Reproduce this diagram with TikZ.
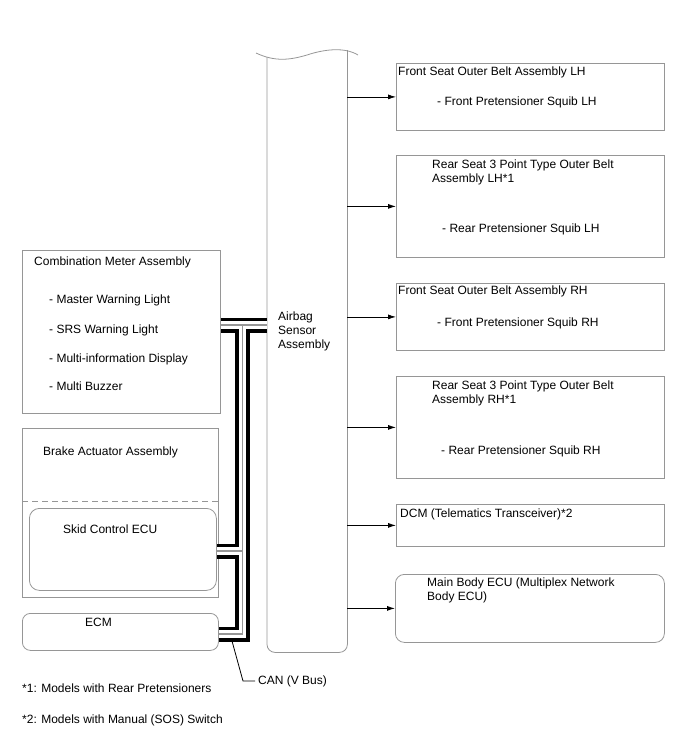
\documentclass[tikz,border=0pt]{standalone}
\usepackage{fontspec}
\setmainfont{Liberation Sans}
\usepackage{xcolor}
\usepackage{tikz}
\usetikzlibrary{positioning,arrows.meta,calc}

\definecolor{linegray}{RGB}{150,150,150}

\begin{document}
\begin{tikzpicture}[
    x=1pt, y=1pt,
    >={Latex[length=8pt,width=5pt]},
    box/.style={draw=linegray, line width=0.8pt, anchor=north west, inner sep=0pt},
    rbox/.style={box, rounded corners=9pt},
    txt/.style={anchor=north west, inner sep=0pt, align=left,
                font=\fontsize{12}{14}\selectfont},
    arr/.style={->, line width=0.8pt, black}
]
    \useasboundingbox (0,0) rectangle (688,-755);

    % airbag sensor column
    \node[inner sep=0pt, minimum width=80pt, minimum height=602pt, anchor=north west]
      (airbag) at (267,-50) {};
    \draw[linegray, line width=0.8pt, rounded corners=8pt]
      (airbag.west |- 0,-57) -- (airbag.south west) -- (airbag.south east) -- (airbag.north east);
    \draw[linegray, line width=0.8pt]
      (256,-53) .. controls (275,-62) and (290,-60) .. (307,-55)
      .. controls (325,-49) and (345,-47) .. (358,-55);
    \node[txt] (airbag-t) at (278,-312) {Airbag\\Sensor\\Assembly};

    % outputs
    \foreach \nm/\y/\h in {fsl/63/67, rsl/155/102, fsr/283/67, rsr/376/102, dcm/504/42}
      \node[box, minimum width=268pt, minimum height=\h pt] (\nm) at (396,-\y) {};
    \node[rbox, minimum width=269pt, minimum height=68pt] (mbe) at (395,-574) {};

    \node[txt] (fsl-t) at (398,-67) {Front Seat Outer Belt Assembly LH};
    \node[txt] (fsl-s) at (437,-97) {- Front Pretensioner Squib LH};
    \node[txt] (rsl-t) at (432,-160) {Rear Seat 3 Point Type Outer Belt\\Assembly LH*1};
    \node[txt] (rsl-s) at (442,-224) {- Rear Pretensioner Squib LH};
    \node[txt] (fsr-t) at (398,-286) {Front Seat Outer Belt Assembly RH};
    \node[txt] (fsr-s) at (437,-318) {- Front Pretensioner Squib RH};
    \node[txt] (rsr-t) at (432,-381) {Rear Seat 3 Point Type Outer Belt\\Assembly RH*1};
    \node[txt] (rsr-s) at (441,-446) {- Rear Pretensioner Squib RH};
    \node[txt] (dcm-t) at (400,-509) {DCM (Telematics Transceiver)*2};
    \node[txt] (mbe-t) at (427,-578) {Main Body ECU (Multiplex Network\\Body ECU)};

    \foreach \nm in {fsl,rsl,fsr,rsr,dcm,mbe}
      \draw[arr] (airbag.east |- \nm.west) -- (\nm.west);

    % inputs
    \node[box, minimum width=198pt, minimum height=163pt] (cmb) at (22,-250) {};
    \node[txt] (cmb-t) at (34,-257) {Combination Meter Assembly};
    \foreach \i/\y/\lab in {1/300/Master Warning Light, 2/330/SRS Warning Light,
                            3/359/Multi-information Display, 4/387/Multi Buzzer}
      \node[txt] (cmb-\i) at (49,-\y+5) {- \lab};

    \node[box, minimum width=196pt, minimum height=169pt] (bka) at (22,-428) {};
    \node[txt] (bka-t) at (43,-447) {Brake Actuator Assembly};
    \draw[linegray, line width=0.8pt, dashed, dash pattern=on 6pt off 4pt]
      (bka.west |- 0,-501) -- (bka.east |- 0,-501);
    \node[rbox, minimum width=187pt, minimum height=82pt, rounded corners=10pt] (sku) at (29,-508) {};
    \node[txt] (sku-t) at (63,-525) {Skid Control ECU};

    \node[rbox, minimum width=196pt, minimum height=37pt, rounded corners=8pt] (ecm) at (22,-613) {};
    \node[txt] (ecm-t) at (85,-618) {ECM};

    % CAN bus
    \coordinate (j1) at (242.5,-325);
    \coordinate (j2) at (242.5,-551);
    \coordinate (j3) at (242.5,-634);
    \foreach \lw/\col in {15pt/black, 7.5pt/white, 1.5pt/linegray} {
      \draw[line width=\lw, color=\col] (cmb.east |- j1) -- (airbag.west |- j1);
      \draw[line width=\lw, color=\col] (j1) -- (j3) -- (ecm.east |- j3);
      \draw[line width=\lw, color=\col] (j2) -- (sku.east |- j2);
    }
    \coordinate (canpt) at (232,-641);
    \node[txt] (can) at (258,-676) {CAN (V Bus)};
    \draw[line width=0.8pt] (canpt) -- (243,-681) -- ([xshift=-3pt]can.west |- 0,-681);

    % notes
    \node[txt] (note1) at (22,-684) {*1: Models with Rear Pretensioners};
    \node[txt] (note2) at (22,-715) {*2: Models with Manual (SOS) Switch};
\end{tikzpicture}
\end{document}
